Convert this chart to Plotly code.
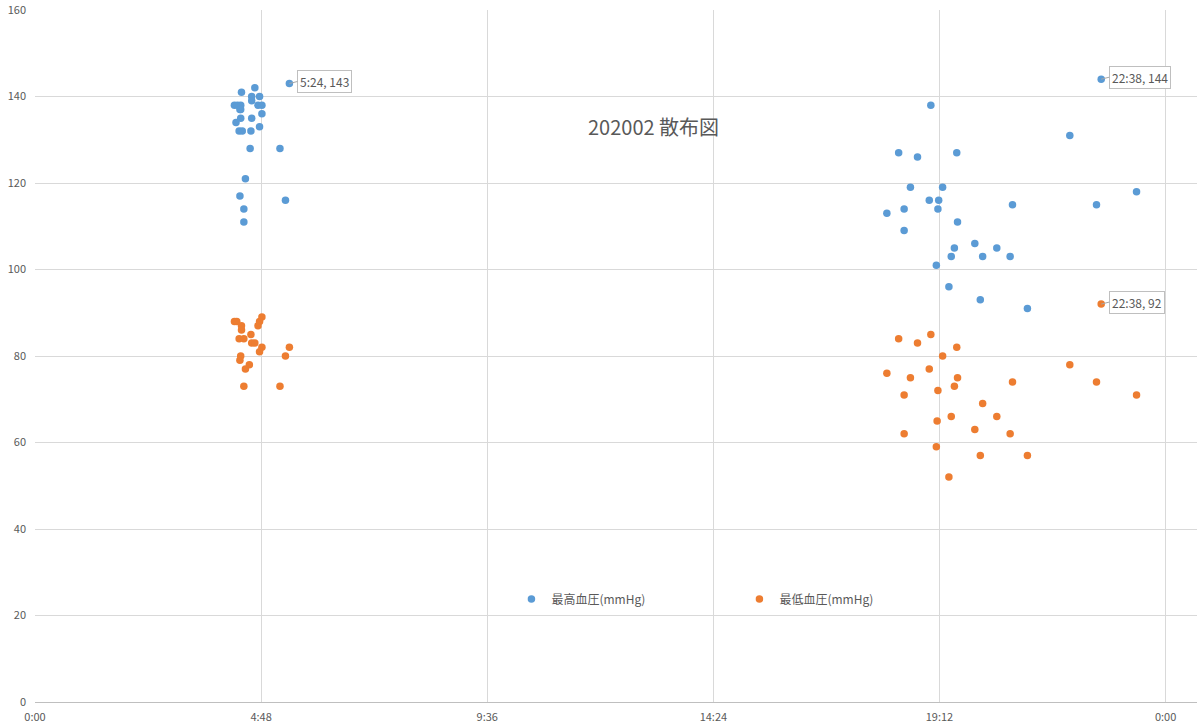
import plotly.graph_objects as go

# 測定時刻 (0:00 からの分) と血圧値、図から読み取り
sys_min = [280, 324, 263, 276, 286, 276, 254, 258, 262, 284, 289, 261, 262, 289,
           262, 276, 256, 286, 260, 264, 275, 274, 312, 268, 261, 319, 266, 266,
           1141, 1100, 1124, 1174, 1115, 1156, 1139, 1151, 1245, 1085, 1107, 1150,
           1175, 1107, 1171, 1197, 1225, 1167, 1207, 1242, 1148, 1164, 1204, 1264,
           1358, 1318, 1403, 1352]
sys_val = [142, 143, 141, 140, 140, 139, 138, 138, 138, 138, 138, 137, 137, 136,
           135, 135, 134, 133, 132, 132, 132, 128, 128, 121, 117, 116, 114, 111,
           138, 127, 126, 127, 119, 119, 116, 116, 115, 113, 114, 114,
           111, 109, 105, 106, 105, 103, 103, 103, 101, 96, 93, 91,
           144, 131, 118, 115]

dia_min = [254, 257, 263, 263, 289, 286, 284, 260, 266, 275, 276, 280, 289, 286,
           324, 319, 262, 261, 273, 268, 266, 312,
           1100, 1124, 1141, 1174, 1156, 1085, 1139, 1115, 1175, 1171, 1245, 1150,
           1107, 1207, 1167, 1225, 1149, 1197, 1107, 1242, 1148, 1204, 1264, 1164,
           1358, 1318, 1352, 1403]
dia_val = [88, 88, 87, 86, 89, 88, 87, 84, 84, 85, 83, 83, 82, 81,
           82, 80, 80, 79, 78, 77, 73, 73,
           84, 83, 85, 82, 80, 76, 77, 75, 75, 73, 74, 72,
           71, 69, 66, 66, 65, 63, 62, 62, 59, 57, 57, 52,
           92, 78, 74, 71]

x_ticks = [0, 288, 576, 864, 1152, 1440]
x_labels = ['0:00', '4:48', '9:36', '14:24', '19:12', '0:00']
labeled = [('sys', 324), ('sys', 1358), ('dia', 1358)]

BLUE = '#5B9BD5'
ORANGE = '#ED7D31'
GRAY = '#595959'
FONT = 'Noto Sans CJK JP'


def hhmm(m):
    return '%d:%02d' % (m // 60, m % 60)


fig = go.Figure()
fig.add_trace(go.Scatter(x=sys_min, y=sys_val, mode='markers', name='最高血圧(mmHg)',
                         marker=dict(color=BLUE, size=7.5)))
fig.add_trace(go.Scatter(x=dia_min, y=dia_val, mode='markers', name='最低血圧(mmHg)',
                         marker=dict(color=ORANGE, size=7.5)))

# データラベル
for kind, m in labeled:
    xs, ys = (sys_min, sys_val) if kind == 'sys' else (dia_min, dia_val)
    v = ys[xs.index(m)]
    fig.add_annotation(x=m, y=v, text='%s, %d' % (hhmm(m), v), xanchor='left',
                       showarrow=True, arrowhead=0, arrowwidth=1, arrowcolor='#a6a6a6',
                       ax=8, ay=-2, bordercolor='#bfbfbf', borderwidth=1, borderpad=2,
                       bgcolor='white', font=dict(size=12, color=GRAY, family=FONT))

fig.add_annotation(xref='paper', yref='paper', x=0.532, y=0.832, text='202002 散布図',
                   xanchor='center', yanchor='middle',
                   showarrow=False, font=dict(size=20, color=GRAY, family=FONT))

fig.update_layout(
    width=1197, height=728,
    margin=dict(l=35, r=0, t=10, b=26),
    plot_bgcolor='white', paper_bgcolor='white',
    font=dict(family=FONT, color=GRAY, size=11),
    showlegend=True,
    legend=dict(orientation='h', x=0.41, y=0.149, xanchor='left', yanchor='middle',
                entrywidth=183, entrywidthmode='pixels', itemwidth=30,
                font=dict(size=12, color=GRAY, family=FONT), bgcolor='rgba(0,0,0,0)'),
    xaxis=dict(range=[0, 1480], tickvals=x_ticks, ticktext=x_labels, automargin=False,
               showgrid=True, gridcolor='#d9d9d9', zeroline=False, ticklabelstandoff=5,
               showline=True, linecolor='#bfbfbf', ticks='', tickfont=dict(size=11, color=GRAY)),
    yaxis=dict(range=[0, 160], dtick=20, showgrid=True, gridcolor='#d9d9d9', automargin=False,
               zeroline=False, showline=False, ticks='', ticklabelstandoff=8,
               tickfont=dict(size=11, color=GRAY)),
)

fig.write_html('out.html', config={'displayModeBar': False},
               post_script="document.body.style.margin='0';")
